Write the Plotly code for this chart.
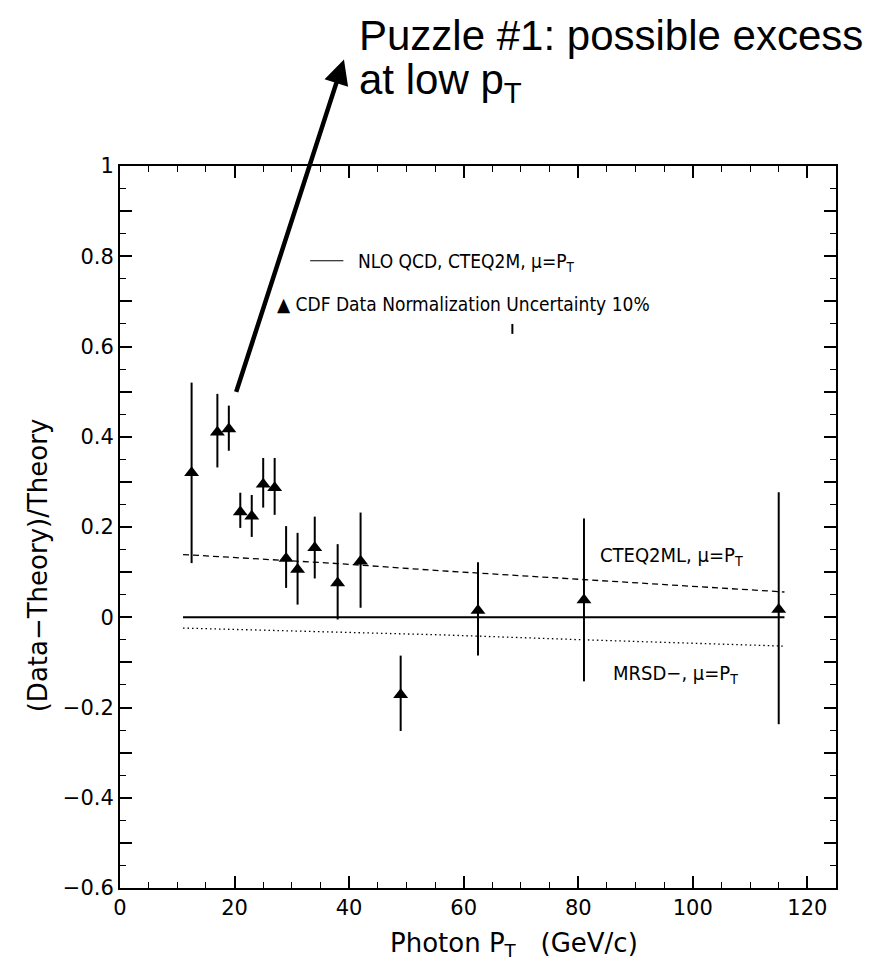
import plotly.graph_objects as go

# ---- data ----
pt = [12.5, 17, 19, 21, 23, 25, 27, 29, 31, 34, 38, 42, 49, 62.5, 81, 115]
ratio = [0.32, 0.41, 0.417, 0.233, 0.224, 0.295, 0.287, 0.13, 0.106, 0.154,
         0.076, 0.124, -0.172, 0.015, 0.038, 0.017]
err_up = [0.20, 0.085, 0.052, 0.043, 0.047, 0.058, 0.066, 0.072, 0.081, 0.069,
          0.086, 0.108, 0.087, 0.107, 0.181, 0.26]
err_dn = [0.20, 0.078, 0.048, 0.035, 0.046, 0.052, 0.060, 0.065, 0.078, 0.068,
          0.081, 0.103, 0.080, 0.100, 0.180, 0.254]

nlo_x = [11, 116]
nlo_y = [0.0, 0.0]

cteq2ml_x = [11, 25, 38, 56, 81, 100, 116]
cteq2ml_y = [0.139, 0.128, 0.119, 0.103, 0.084, 0.069, 0.056]

mrsd_x = [11, 30, 56, 81, 100, 116]
mrsd_y = [-0.024, -0.031, -0.039, -0.050, -0.057, -0.064]

x_ticks = [0, 20, 40, 60, 80, 100, 120]
y_ticks = [-0.6, -0.5, -0.4, -0.3, -0.2, -0.1, 0, 0.1, 0.2, 0.3, 0.4, 0.5, 0.6, 0.7, 0.8, 0.9, 1.0]
y_text = ["\u22120.6", " ", "\u22120.4", " ", "\u22120.2", " ", "0", " ", "0.2", " ", "0.4", " ",
          "0.6", " ", "0.8", " ", "1"]

COND = "DejaVu Sans Condensed, DejaVu Sans, sans-serif"
SANS = "DejaVu Sans, sans-serif"
ARIAL = "Liberation Sans, Arial, sans-serif"

fig = go.Figure()

fig.add_trace(go.Scatter(x=nlo_x, y=nlo_y, mode="lines",
                         line=dict(color="black", width=1.8), showlegend=False))
fig.add_trace(go.Scatter(x=cteq2ml_x, y=cteq2ml_y, mode="lines",
                         line=dict(color="black", width=1.3, dash="6px,4px"), showlegend=False))
fig.add_trace(go.Scatter(x=mrsd_x, y=mrsd_y, mode="lines",
                         line=dict(color="black", width=1.3, dash="1.5px,3px"), showlegend=False))
fig.add_trace(go.Scatter(
    x=pt, y=ratio, mode="markers",
    marker=dict(symbol="triangle-up", size=13, color="black"),
    error_y=dict(type="data", symmetric=False, array=err_up, arrayminus=err_dn,
                 color="black", thickness=2, width=0),
    showlegend=False))

# legend-like annotations
fig.add_shape(type="line", x0=33.2, x1=39.0, y0=0.79, y1=0.79,
              line=dict(color="black", width=1))
fig.add_annotation(x=41.2, y=0.787, xanchor="left", yanchor="middle", showarrow=False,
                   text="NLO QCD, CTEQ2M, \u03bc=P<sub>T</sub>",
                   font=dict(family=COND, size=19, color="black"))
fig.add_annotation(x=27, y=0.695, xanchor="left", yanchor="middle", showarrow=False,
                   text="\u25b2 CDF Data Normalization Uncertainty 10%",
                   font=dict(family=COND, size=19, color="black"))
fig.add_shape(type="line", x0=68.5, x1=68.5, y0=0.628, y1=0.650,
              line=dict(color="black", width=2))

fig.add_annotation(x=96.3, y=0.136, xanchor="center", yanchor="middle", showarrow=False,
                   text="CTEQ2ML, \u03bc=P<sub>T</sub>",
                   font=dict(family=COND, size=20, color="black"))
fig.add_annotation(x=96.9, y=-0.126, xanchor="center", yanchor="middle", showarrow=False,
                   text="MRSD\u2212, \u03bc=P<sub>T</sub>",
                   font=dict(family=COND, size=20, color="black"))

# big arrow + title text
fig.add_annotation(x=39.1, y=1.236, ax=20.2, ay=0.496, xref="x", yref="y",
                   axref="x", ayref="y", showarrow=True, arrowhead=2, arrowsize=1.1,
                   arrowwidth=4.5, arrowcolor="black", text="")
fig.add_annotation(x=0.331, y=1.1814, xref="paper", yref="paper",
                   xanchor="left", yanchor="middle", showarrow=False,
                   text="Puzzle #1: possible excess",
                   font=dict(family=ARIAL, size=42, color="black"))
fig.add_annotation(x=0.331, y=1.115, xref="paper", yref="paper",
                   xanchor="left", yanchor="middle", showarrow=False,
                   text="at low p<sub>T</sub>",
                   font=dict(family=ARIAL, size=42, color="black"))

# axis titles
fig.add_annotation(x=0.55, y=-0.078, xref="paper", yref="paper",
                   xanchor="center", yanchor="middle", showarrow=False,
                   text="Photon P<sub>T</sub>   (GeV/c)",
                   font=dict(family=SANS, size=26, color="black"))
fig.add_annotation(x=-0.1145, y=0.447, xref="paper", yref="paper",
                   xanchor="center", yanchor="middle", showarrow=False, textangle=-90,
                   text="(Data\u2212Theory)/Theory",
                   font=dict(family=SANS, size=26, color="black"))

fig.update_layout(
    width=873, height=965,
    margin=dict(l=120, r=37, t=166, b=77),
    paper_bgcolor="white", plot_bgcolor="white",
    showlegend=False,
    font=dict(family=SANS, color="black"),
)
fig.update_xaxes(
    range=[0, 125], tickvals=x_ticks, ticks="inside", ticklen=12, tickwidth=1.5,
    tickcolor="black", showline=True, linecolor="black", linewidth=2, mirror="ticks",
    showgrid=False, zeroline=False,
    tickfont=dict(family=SANS, size=21),
    minor=dict(dtick=5, ticks="inside", ticklen=6, tickcolor="black", tickwidth=1.2, showgrid=False),
)
fig.update_yaxes(
    range=[-0.6, 1.0], tickvals=y_ticks, ticktext=y_text, ticks="inside", ticklen=12,
    tickwidth=1.5, tickcolor="black", showline=True, linecolor="black", linewidth=2,
    mirror="ticks", showgrid=False, zeroline=False,
    tickfont=dict(family=SANS, size=21),
    minor=dict(dtick=0.05, ticks="inside", ticklen=6, tickcolor="black", tickwidth=1.2, showgrid=False),
)

fig.write_html("out.html")
